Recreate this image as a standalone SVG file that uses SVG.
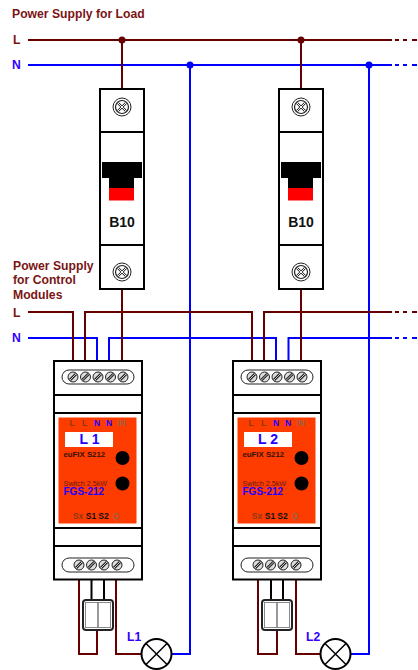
<svg xmlns="http://www.w3.org/2000/svg" width="418" height="670" viewBox="0 0 418 670">
<style>
text{font-family:"Liberation Sans",Arial,sans-serif;font-weight:bold}
.b{fill:none;stroke:#660000;stroke-width:2}
.n{fill:none;stroke:#0000ff;stroke-width:2}
.k{fill:none;stroke:#000;stroke-width:2}
.tb{fill:#7a1515;font-size:12.2px}
.tn{fill:#3300ff;font-size:12.2px}
.box{fill:#fff;stroke:#000;stroke-width:2}
.tm{font-size:8.5px;text-anchor:middle}
</style>
<defs>
<g id="bigscrew"><circle r="9" fill="#fff" stroke="#222" stroke-width="1"/><circle r="6.5" fill="#fff" stroke="#222" stroke-width="1.2"/><path d="M-4-4L4 4M-4 4L4-4" stroke="#222" stroke-width="2.4"/><path d="M-4-4L4 4M-4 4L4-4" stroke="#fff" stroke-width="1"/></g>
<g id="screw"><circle r="5" fill="#ddd" stroke="#222" stroke-width="1"/><path d="M-3 3L3-3" stroke="#222" stroke-width="2.800"/><path d="M-3 3L3-3" stroke="#ddd" stroke-width="0.900"/></g>
<g id="breaker">
<rect x="0" y="0" width="44" height="200" class="box"/>
<path d="M0 43H44M0 156H44" class="k"/>
<use href="#bigscrew" x="22" y="18"/><use href="#bigscrew" x="22" y="183"/>
<path d="M2 73H42V89H34V99H9V89H2Z" fill="#000"/>
<rect x="9" y="99" width="25" height="12.500" fill="#ff0000"/>
<text x="22" y="138" font-size="14" text-anchor="middle" fill="#111">B10</text>
</g>
<g id="lamp"><circle r="15" fill="#fff" stroke="#000" stroke-width="2"/><path d="M-10.500-10.500L10.500 10.500M-10.500 10.500L10.500-10.500" stroke="#000" stroke-width="1.500"/></g>
<g id="module">
<rect x="0" y="0" width="88" height="218.500" class="box"/>
<path d="M0 34H88M0 52H88M0 167H88M0 185H88" class="k"/>
<rect x="8" y="9" width="72" height="14" rx="7" fill="#fff" stroke="#222" stroke-width="1"/>
<use href="#screw" x="19" y="16"/><use href="#screw" x="31.500" y="16"/><use href="#screw" x="44" y="16"/><use href="#screw" x="56.500" y="16"/><use href="#screw" x="69" y="16"/>
<rect x="8" y="197" width="72" height="14" rx="7" fill="#fff" stroke="#222" stroke-width="1"/>
<use href="#screw" x="25" y="204"/><use href="#screw" x="37.500" y="204"/><use href="#screw" x="50" y="204"/><use href="#screw" x="63" y="204"/>
<rect x="4.500" y="56.500" width="78" height="106" fill="#ff3c00"/>
<text x="18" y="65" class="tm" fill="#8a3a10">L</text><text x="30.500" y="65" class="tm" fill="#8a3a10">L</text><text x="43" y="65" class="tm" fill="#2200ff">N</text><text x="55" y="65" class="tm" fill="#2200ff">N</text><text x="68" y="65" class="tm" fill="#a06040">IN</text>
<rect x="11" y="71" width="48" height="15" fill="#fff"/>
<text x="9.500" y="96" font-size="7.800" fill="#331100">euFIX S212</text>
<circle cx="68.500" cy="97" r="7" fill="#000"/><circle cx="68.500" cy="122.500" r="7" fill="#000"/>
<text x="9.500" y="125" font-size="7.200" style="font-weight:normal" fill="#6a1a00">Switch 2.5kW</text>
<text x="9.500" y="134" font-size="10" fill="#2200ff">FGS-212</text>
<text x="24" y="158" class="tm" fill="#8a3a10">Sx</text><text x="37" y="158" class="tm" fill="#111">S1</text><text x="49.500" y="158" class="tm" fill="#111">S2</text><text x="62" y="158" class="tm" fill="#a06040">Q</text>
</g>
<g id="switch"><rect x="0" y="0" width="30" height="30" rx="3" fill="#fff" stroke="#222" stroke-width="2"/><rect x="2.500" y="2.500" width="25" height="25" fill="none" stroke="#888" stroke-width="1"/><path d="M15 2.500V27.500" stroke="#777" stroke-width="1.500"/></g>
</defs>
<g id="connectors">
<path class="n" d="M28 65H392M395 65H399M403 65H407M412 65H417"/>
<path class="n" d="M190 65V654H172M369 65V654H351"/>
<path class="n" d="M28 338H97V361M109 361V338H276V361M288.500 361V338H392M395 338H399M403 338H407M412 338H417"/>
<path class="b" d="M28 40H392M395 40H399M403 40H407M412 40H417"/>
<path class="b" d="M122 40V89M122 289V361M301 40V89M301 289V361"/>
<path class="b" d="M28 312H73V361M85 361V312H252V361M264 361V312H392M395 312H399M403 312H407M412 312H417"/>
<path class="b" d="M79 580V654H97V630M116 580V654H141"/>
<path class="b" d="M258 580V654H277V630M296 580V654H320"/>
<path class="k" d="M91.500 580V600M104 580V600M271 580V600M283 580V600"/>
<circle cx="122" cy="40" r="3.500" fill="#660000"/><circle cx="301" cy="40" r="3.500" fill="#660000"/>
<circle cx="190" cy="65" r="3.500" fill="#0000ff"/><circle cx="369" cy="65" r="3.500" fill="#0000ff"/>
</g>
<g id="labels">
<text x="12" y="18" class="tb">Power Supply for Load</text>
<text x="13" y="44" class="tb">L</text><text x="12" y="69" class="tn">N</text>
<text x="13" y="270" class="tb">Power Supply</text><text x="13" y="284" class="tb">for Control</text><text x="13" y="299" class="tb">Modules</text>
<text x="13" y="317" class="tb">L</text><text x="12" y="342" class="tn">N</text>
</g>
<g id="breaker1"><use href="#breaker" x="100" y="89"/></g>
<g id="breaker2"><use href="#breaker" x="279" y="89"/></g>
<g id="module1"><use href="#module" x="54" y="361"/>
<text x="89.500" y="444" font-size="14" text-anchor="middle" fill="#2200ff">L 1</text></g>
<g id="module2"><use href="#module" x="233" y="361"/>
<text x="268" y="444" font-size="14" text-anchor="middle" fill="#2200ff">L 2</text></g>
<g id="switch1"><use href="#switch" x="83" y="600"/></g>
<g id="switch2"><use href="#switch" x="262" y="600"/></g>
<g id="lamp1"><use href="#lamp" x="156.500" y="654"/><text x="127" y="641" class="tn">L1</text></g>
<g id="lamp2"><use href="#lamp" x="335.500" y="654"/><text x="306" y="641" class="tn">L2</text></g>
</svg>
